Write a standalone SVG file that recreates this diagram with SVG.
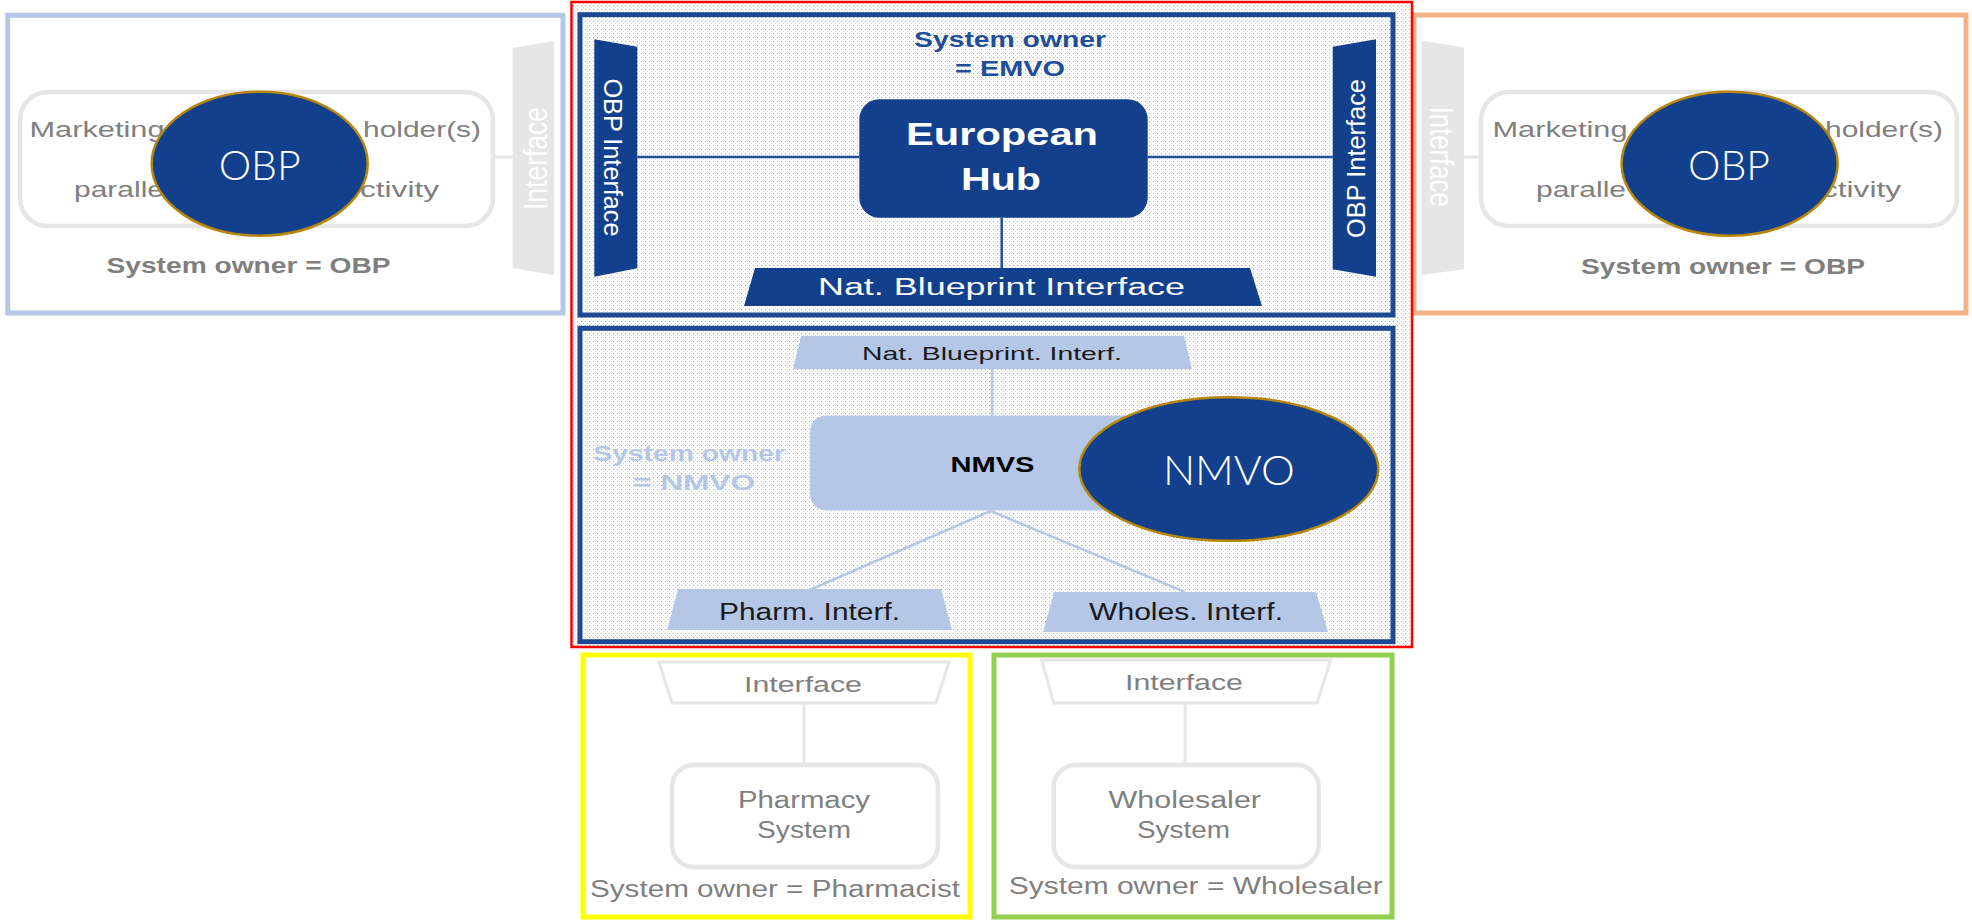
<svg xmlns="http://www.w3.org/2000/svg" width="1972" height="920" viewBox="0 0 1972 920">
<style>
.t{font-family:"Liberation Sans",Arial,sans-serif}
.b{font-weight:bold}
.g{fill:#7f7f7f}
.w{fill:#ffffff}
.k{fill:#1a1a1a}
.eb{fill:#1f4e99}
.lb{fill:#b4c7e7}
.thin{font-family:Lato,"Liberation Sans",sans-serif;font-weight:300;fill:#ffffff}
.grect{fill:#ffffff;stroke:#e6e6e6;stroke-width:4.5}
.gshape{fill:#e6e6e6}
.dshape{fill:#12408c}
.lshape{fill:#b4c7e7}
.oval{fill:#12408c;stroke:#b8860b;stroke-width:2.5}
.frame{fill:none;stroke-width:5}
.cd{stroke:#1f4e99;stroke-width:2.5;fill:none}
.cl{stroke:#b4c7e7;stroke-width:2.5;fill:none}
.cg{stroke:#e6e6e6;stroke-width:3;fill:none}
</style>
<defs>
<pattern id="dots" width="4" height="4" patternUnits="userSpaceOnUse">
<rect x="1" y="1" width="1" height="1" fill="#f28a8a"/>
<rect x="3" y="3" width="1" height="1" fill="#fcdede"/>
</pattern>
</defs>
<rect x="0" y="0" width="1972" height="920" fill="#ffffff"/>

<g id="left-obp-frame">
<rect class="frame" x="7.7" y="15.3" width="555.3" height="297.7" stroke="#b4c7e7"/>
</g>
<g id="right-obp-frame">
<rect class="frame" x="1414" y="15" width="552" height="298" stroke="#f4b183"/>
</g>
<g id="central-frame">
<rect x="571.5" y="2" width="840.5" height="645" fill="url(#dots)" stroke="#ff0000" stroke-width="2.5"/>
</g>
<g id="emvo-frame">
<rect class="frame" x="580" y="14.7" width="813" height="300.3" stroke="#1d4a93"/>
</g>
<g id="nmvo-frame">
<rect class="frame" x="580" y="328.3" width="813" height="313.4" stroke="#1d4a93"/>
</g>
<g id="pharmacy-frame">
<rect class="frame" x="583" y="655" width="387" height="262" stroke="#ffff00"/>
</g>
<g id="wholesaler-frame">
<rect class="frame" x="994" y="655" width="398" height="262" stroke="#92d050"/>
</g>

<g id="connectors">
<line class="cg" x1="493" y1="157" x2="513" y2="157"/>
<line class="cg" x1="1464" y1="157" x2="1481" y2="157"/>
<line class="cd" x1="637.3" y1="157" x2="859.3" y2="157"/>
<line class="cd" x1="1147.7" y1="157" x2="1332.7" y2="157"/>
<line class="cd" x1="1001.7" y1="217.7" x2="1001.7" y2="268"/>
<line class="cl" x1="992" y1="369" x2="992" y2="416"/>
<line class="cl" x1="990.6" y1="511" x2="809.6" y2="590"/>
<line class="cl" x1="990.6" y1="511" x2="1185" y2="592"/>
<line class="cg" x1="804" y1="703" x2="804" y2="765"/>
<line class="cg" x1="1185" y1="703" x2="1185" y2="765"/>
</g>

<g id="left-mah-system">
<rect class="grect" x="20" y="92" width="473" height="134" rx="28"/>
<text class="t g" x="29.5" y="137" font-size="22.5" textLength="135" lengthAdjust="spacingAndGlyphs">Marketing</text>
<text class="t g" x="363" y="137" font-size="22.5" textLength="118" lengthAdjust="spacingAndGlyphs">holder(s)</text>
<text class="t g" x="74" y="197" font-size="22.5" textLength="90" lengthAdjust="spacingAndGlyphs">paralle</text>
<text class="t g" x="360" y="197" font-size="22.5" textLength="79" lengthAdjust="spacingAndGlyphs">ctivity</text>
</g>
<g id="left-interface">
<polygon class="gshape" points="512.7,48 554,41 554,275 512.7,268"/>
<text class="t w" transform="translate(547.3,158.5) rotate(-90)" text-anchor="middle" font-size="34" textLength="103" lengthAdjust="spacingAndGlyphs">Interface</text>
</g>
<g id="left-owner">
<text class="t g b" x="106.5" y="273" font-size="21.5" textLength="284" lengthAdjust="spacingAndGlyphs">System owner = OBP</text>
</g>
<g id="left-obp-oval">
<ellipse class="oval" cx="259.7" cy="163.7" rx="108" ry="72"/>
<text class="thin" x="259.7" y="180" text-anchor="middle" font-size="42" textLength="82" lengthAdjust="spacingAndGlyphs">OBP</text>
</g>

<g id="right-mah-system">
<rect class="grect" x="1481" y="92" width="476" height="134" rx="28"/>
<text class="t g" x="1492.5" y="137" font-size="22.5" textLength="135" lengthAdjust="spacingAndGlyphs">Marketing</text>
<text class="t g" x="1825" y="137" font-size="22.5" textLength="118" lengthAdjust="spacingAndGlyphs">holder(s)</text>
<text class="t g" x="1536" y="197" font-size="22.5" textLength="90" lengthAdjust="spacingAndGlyphs">paralle</text>
<text class="t g" x="1822" y="197" font-size="22.5" textLength="79" lengthAdjust="spacingAndGlyphs">ctivity</text>
</g>
<g id="right-interface">
<polygon class="gshape" points="1421.7,40.7 1464,47.3 1464,269.3 1421.7,275"/>
<text class="t w" transform="translate(1430,156.7) rotate(90)" text-anchor="middle" font-size="34" textLength="100" lengthAdjust="spacingAndGlyphs">Interface</text>
</g>
<g id="right-owner">
<text class="t g b" x="1581" y="274" font-size="21.5" textLength="284" lengthAdjust="spacingAndGlyphs">System owner = OBP</text>
</g>
<g id="right-obp-oval">
<ellipse class="oval" cx="1729.6" cy="163.7" rx="108" ry="72"/>
<text class="thin" x="1729" y="180" text-anchor="middle" font-size="42" textLength="82" lengthAdjust="spacingAndGlyphs">OBP</text>
</g>

<g id="emvo-owner">
<text class="t b eb" x="914" y="47" font-size="21.5" textLength="192" lengthAdjust="spacingAndGlyphs">System owner</text>
<text class="t b eb" x="955" y="76" font-size="21.5" textLength="110" lengthAdjust="spacingAndGlyphs">= EMVO</text>
</g>
<g id="european-hub">
<rect class="dshape" x="859.3" y="99.3" width="288.4" height="118.4" rx="20"/>
<text class="t b w" x="906" y="145" font-size="31" textLength="192" lengthAdjust="spacingAndGlyphs">European</text>
<text class="t b w" x="961" y="190" font-size="31" textLength="80" lengthAdjust="spacingAndGlyphs">Hub</text>
</g>
<g id="left-obp-interface">
<polygon class="dshape" points="594.3,39.3 637.3,46.7 637.3,268.3 594.3,276.7"/>
<text class="t w" transform="translate(604,157.5) rotate(90)" text-anchor="middle" font-size="26.5" textLength="158" lengthAdjust="spacingAndGlyphs">OBP Interface</text>
</g>
<g id="right-obp-interface">
<polygon class="dshape" points="1332.7,46.7 1376,39.3 1376,276.7 1332.7,269.3"/>
<text class="t w" transform="translate(1364.5,158.5) rotate(-90)" text-anchor="middle" font-size="26.5" textLength="159" lengthAdjust="spacingAndGlyphs">OBP Interface</text>
</g>
<g id="nat-blueprint-interface">
<polygon class="dshape" points="755,268 1250,268 1262,306 744,306"/>
<text class="t w" x="818" y="295" font-size="23.5" textLength="367" lengthAdjust="spacingAndGlyphs">Nat. Blueprint Interface</text>
</g>

<g id="nmvo-owner">
<text class="t b lb" x="593.3" y="460.7" font-size="22" textLength="191.7" lengthAdjust="spacingAndGlyphs">System owner</text>
<text class="t b lb" x="633" y="490" font-size="22" textLength="122" lengthAdjust="spacingAndGlyphs">= NMVO</text>
</g>
<g id="nat-blueprint-interf">
<polygon class="lshape" points="801,336 1184,336 1192,369 793,369"/>
<text class="t k" x="862" y="360" font-size="18.8" textLength="260" lengthAdjust="spacingAndGlyphs">Nat. Blueprint. Interf.</text>
</g>
<g id="nmvs">
<rect class="lshape" x="810" y="415.5" width="364" height="95" rx="16"/>
<text class="t b" x="950.5" y="472" font-size="21.5" fill="#000000" textLength="84" lengthAdjust="spacingAndGlyphs">NMVS</text>
</g>
<g id="nmvo-oval">
<ellipse class="oval" cx="1228.8" cy="469" rx="149.5" ry="71.8"/>
<text class="thin" x="1228.9" y="485" text-anchor="middle" font-size="42" textLength="132" lengthAdjust="spacingAndGlyphs">NMVO</text>
</g>
<g id="pharm-interf">
<polygon class="lshape" points="678,589 941,589 952,630 667,630"/>
<text class="t k" x="719" y="620" font-size="23.5" textLength="181" lengthAdjust="spacingAndGlyphs">Pharm. Interf.</text>
</g>
<g id="wholes-interf">
<polygon class="lshape" points="1054,592 1316,592 1328,632 1043,632"/>
<text class="t k" x="1089" y="620" font-size="23.5" textLength="194" lengthAdjust="spacingAndGlyphs">Wholes. Interf.</text>
</g>

<g id="pharmacy-interface">
<polygon class="cg" fill="#ffffff" points="659,662 949,662 936,703 672,703"/>
<text class="t g" x="744" y="692" font-size="21.5" textLength="118" lengthAdjust="spacingAndGlyphs">Interface</text>
</g>
<g id="pharmacy-system">
<rect class="grect" x="672" y="765" width="266" height="102" rx="22"/>
<text class="t g" x="738" y="808" font-size="23.5" textLength="132" lengthAdjust="spacingAndGlyphs">Pharmacy</text>
<text class="t g" x="757" y="838" font-size="23.5" textLength="94" lengthAdjust="spacingAndGlyphs">System</text>
</g>
<g id="pharmacy-owner">
<text class="t g" x="590" y="897" font-size="23.5" textLength="370" lengthAdjust="spacingAndGlyphs">System owner = Pharmacist</text>
</g>
<g id="wholesaler-interface">
<polygon class="cg" fill="#ffffff" points="1041.6,660 1330.7,660 1317,703 1053.7,703"/>
<text class="t g" x="1125" y="690" font-size="21.5" textLength="118" lengthAdjust="spacingAndGlyphs">Interface</text>
</g>
<g id="wholesaler-system">
<rect class="grect" x="1053.7" y="765" width="265" height="102" rx="22"/>
<text class="t g" x="1108.5" y="808" font-size="23.5" textLength="152.5" lengthAdjust="spacingAndGlyphs">Wholesaler</text>
<text class="t g" x="1137" y="838" font-size="23.5" textLength="93" lengthAdjust="spacingAndGlyphs">System</text>
</g>
<g id="wholesaler-owner">
<text class="t g" x="1008.7" y="894" font-size="23.5" textLength="374" lengthAdjust="spacingAndGlyphs">System owner = Wholesaler</text>
</g>
</svg>
